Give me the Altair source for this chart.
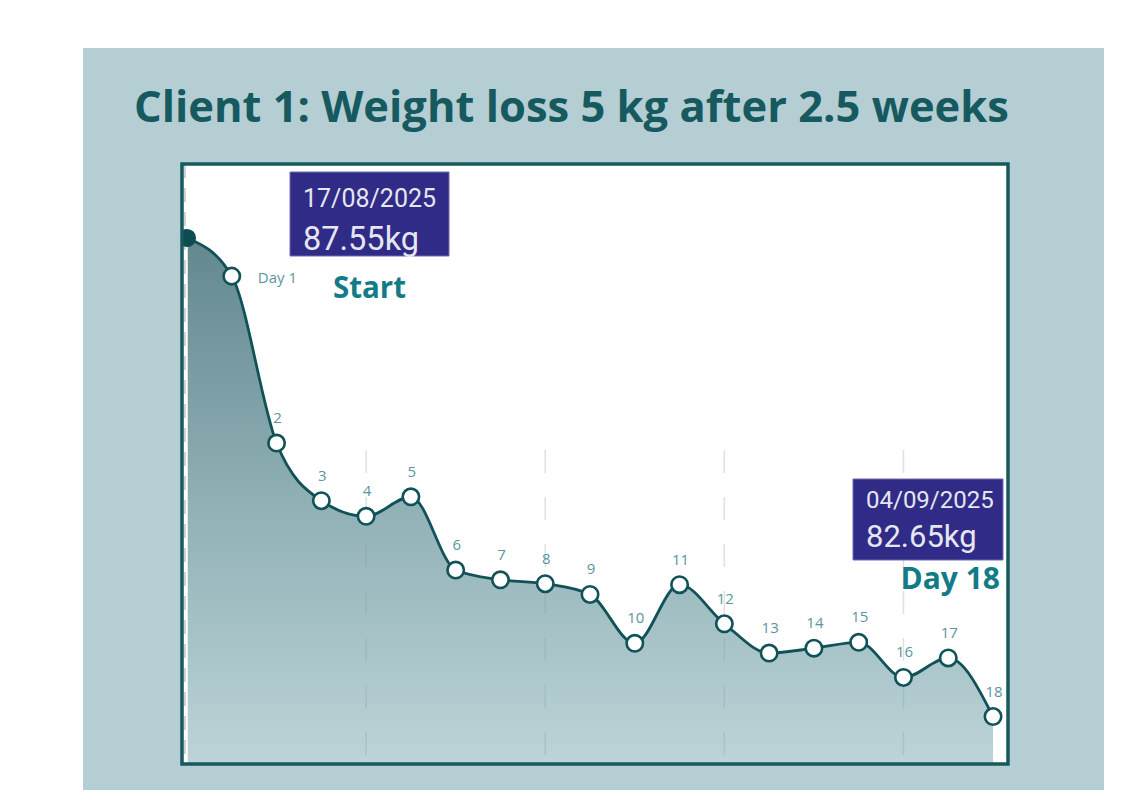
import altair as alt
import pandas as pd

# ---- data ----
days = list(range(19))
weights = [87.55, 87.16, 85.45, 84.86, 84.70, 84.90, 84.15, 84.05, 84.01, 83.90,
           83.40, 84.00, 83.60, 83.30, 83.35, 83.41, 83.05, 83.25, 82.65]
point_labels = ["", "Day 1"] + [str(d) for d in range(2, 19)]
grid_days = [4, 8, 12, 16]
grid_top = 85.38
title_text = "Client 1: Weight loss 5 kg after 2.5 weeks"
start_date = "17/08/2025"
end_date = "04/09/2025"
start_tag = "Start"
end_tag = "Day 18"

W, H = 826, 600
Y_MIN, Y_MAX = 82.164, 88.308

df = pd.DataFrame({"day": days, "weight": weights, "label": point_labels})
df["base"] = Y_MIN
one = pd.DataFrame({"k": [0]})
grid_df = pd.DataFrame({"gday": grid_days, "gtop": [grid_top] * len(grid_days),
                        "gbot": [Y_MIN] * len(grid_days)})
zero_df = pd.DataFrame({"day": [days[0]]})

xs = alt.Scale(domain=[-0.1117, 18.334], nice=False, zero=False)
ys = alt.Scale(domain=[Y_MIN, Y_MAX], nice=False, zero=False)
X = alt.X("day:Q", scale=xs, axis=None)
Y = alt.Y("weight:Q", scale=ys, axis=None)

LINE = "#105257"
LABEL = "#5e949e"
BOX = "#2f2b86"
BOXTXT = "#e6e6f0"
TAG = "#137b87"

base = alt.Chart(df)

panel = alt.Chart(one).mark_rect(color="#b4ced3").encode(
    x=alt.value(-99), x2=alt.value(922), y=alt.value(-116), y2=alt.value(626))
inner = alt.Chart(one).mark_rect(color="white").encode(
    x=alt.value(0), x2=alt.value(W), y=alt.value(0), y2=alt.value(H))

gradient = alt.Gradient(
    gradient="linear",
    stops=[alt.GradientStop(color="#62888e", offset=0),
           alt.GradientStop(color="#8fb0b5", offset=0.5),
           alt.GradientStop(color="#bcd4d8", offset=1)],
    x1=0, x2=0, y1=0, y2=1)

area = base.mark_area(interpolate="monotone", fill=gradient).encode(
    x=X, y=Y, y2=alt.Y2("base:Q"))

grid = alt.Chart(grid_df).mark_rule(strokeDash=[23, 24], color="#8c9a9c",
                                    opacity=0.3, strokeWidth=1.5).encode(
    x=alt.X("gday:Q", scale=xs, axis=None),
    y=alt.Y("gtop:Q", scale=ys, axis=None), y2=alt.Y2("gbot:Q"))

left_dash = alt.Chart(one).mark_rule(strokeDash=[14, 10], color="#c4c4c4",
                                     strokeWidth=1.5).encode(
    x=alt.value(3), y=alt.value(0), y2=alt.value(H))
left_white = alt.Chart(zero_df).mark_rule(color="white", strokeWidth=1.5).encode(
    x=X, y=alt.value(0), y2=alt.value(H))

line = base.mark_line(interpolate="monotone", color=LINE, strokeWidth=2.8).encode(x=X, y=Y)

pts = base.transform_filter("datum.day > 0").mark_circle(
    fill="white", stroke=LINE, strokeWidth=2.6, size=270, opacity=1).encode(x=X, y=Y)
start_pt = base.transform_filter("datum.day == 0").mark_circle(
    color="#0e4c51", size=330, opacity=1, clip=True).encode(x=X, y=Y)

lab1 = base.transform_filter("datum.day == 1").mark_text(
    align="left", baseline="middle", dx=26, dy=2, font="Open Sans",
    fontSize=15, color=LABEL).encode(x=X, y=Y, text="label:N")
labs = base.transform_filter("datum.day >= 2").mark_text(
    align="center", baseline="middle", dx=1, dy=-25, font="Open Sans",
    fontSize=15, color=LABEL).encode(x=X, y=Y, text="label:N")


def box(x1, x2, y1, y2):
    return alt.Chart(one).mark_rect(color=BOX, stroke="#6f6cb4", strokeWidth=1).encode(
        x=alt.value(x1), x2=alt.value(x2), y=alt.value(y1), y2=alt.value(y2))


def txt(text, x, y, **kw):
    return alt.Chart(one).mark_text(text=text, baseline="alphabetic", **kw).encode(
        x=alt.value(x), y=alt.value(y))


box1 = box(108, 267, 8, 92)
box2 = box(671, 821, 315, 396)
t_d1 = txt(start_date, 121, 43, align="left", font="Roboto", fontSize=25, color=BOXTXT)
t_k1 = txt(f"{weights[0]:.2f}kg", 121, 86, align="left", font="Roboto", fontSize=32.5, color=BOXTXT)
t_s = txt(start_tag, 187.5, 134, align="center", font="Open Sans", fontSize=29.5,
          fontWeight="bold", color=TAG)
t_d2 = txt(end_date, 684, 344, align="left", font="Roboto", fontSize=24, color=BOXTXT)
t_k2 = txt(f"{weights[-1]:.2f}kg", 684, 383, align="left", font="Roboto", fontSize=31, color=BOXTXT)
t_e = txt(end_tag, 818, 425, align="right", font="Open Sans", fontSize=30,
          fontWeight="bold", color=TAG)

title = txt(title_text, -48, -42, align="left", font="Open Sans", fontSize=43.5,
            fontWeight="bold", color="#165a5f")

frame = alt.Chart(one).mark_rect(fillOpacity=0, stroke="#175a5e", strokeWidth=3.5).encode(
    x=alt.value(0), x2=alt.value(W), y=alt.value(0), y2=alt.value(H))

chart = alt.layer(
    panel, inner, area, grid, left_dash, left_white, line, start_pt, pts,
    lab1, labs, box1, box2, t_d1, t_k1, t_s, t_d2, t_k2, t_e, title, frame
).properties(
    width=W, height=H,
    padding={"left": 174, "top": 156, "right": 100, "bottom": 30},
    autosize=alt.AutoSizeParams(type="none"),
    background="white",
).configure_view(stroke=None)

chart.save("out.html", embed_options={"renderer": "svg", "actions": False})
